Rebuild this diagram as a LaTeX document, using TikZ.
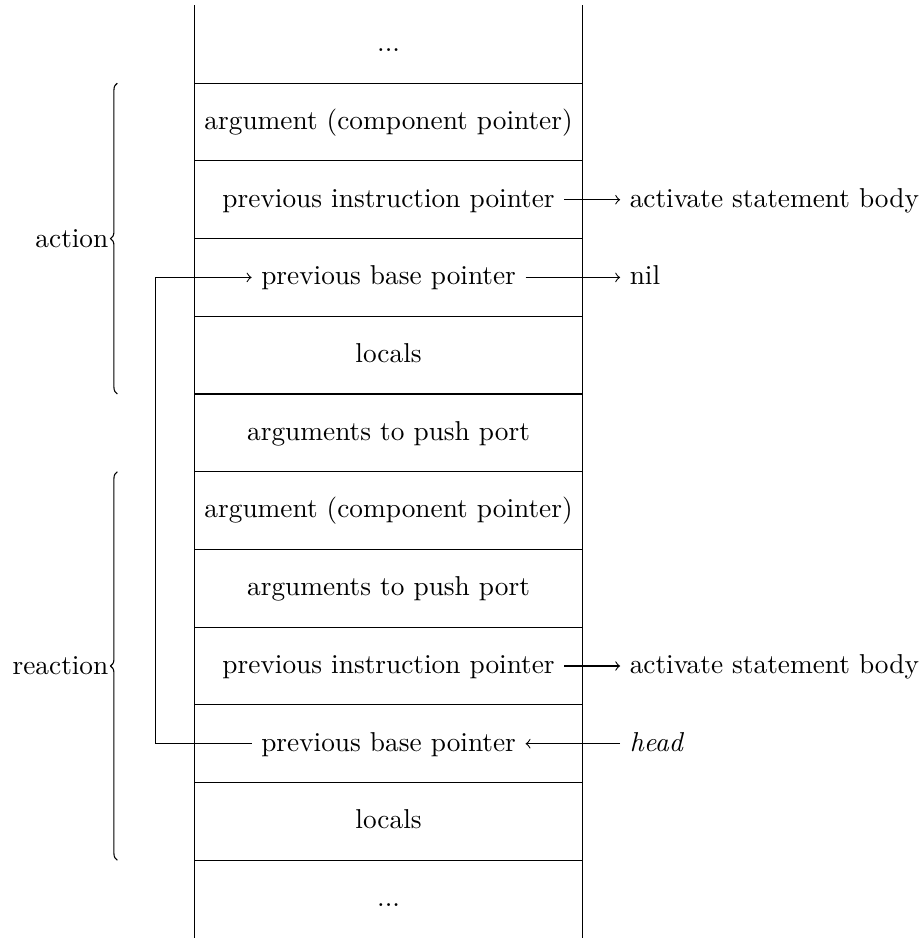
\documentclass[tikz,border=0pt]{standalone}
\usetikzlibrary{decorations.pathreplacing}
\begin{document}
\begin{tikzpicture}[
  cell/.style={text height=1.5ex, text depth=.25ex},
  side/.style={text height=1.5ex, text depth=.25ex, anchor=west},
  stackline/.style={line width=0.4pt},
  bracepath/.style={decorate, decoration={brace, amplitude=2.5pt}},
  bracelabel/.style={anchor=east, inner sep=0.5pt, xshift=-2.6pt}
]
\useasboundingbox (0,0) rectangle (11.88,12.07);
% stack outline
\draw[stackline] (2.5,0) -- (2.5,12);
\draw[stackline] (7.5,0) -- (7.5,12);
\foreach \y in {1,...,11} \draw[stackline] (2.5,\y) -- (7.5,\y);
% rows
\node[cell] (r1)  at (5,11.5) {...};
\node[cell] (r2)  at (5,10.5) {argument (component pointer)};
\node[cell] (r3)  at (5,9.5)  {previous instruction pointer};
\node[cell] (r4)  at (5,8.5)  {previous base pointer};
\node[cell] (r5)  at (5,7.5)  {locals};
\node[cell] (r6)  at (5,6.5)  {arguments to push port};
\node[cell] (r7)  at (5,5.5)  {argument (component pointer)};
\node[cell] (r8)  at (5,4.5)  {arguments to push port};
\node[cell] (r9)  at (5,3.5)  {previous instruction pointer};
\node[cell] (r10) at (5,2.5)  {previous base pointer};
\node[cell] (r11) at (5,1.5)  {locals};
\node[cell] (r12) at (5,0.5)  {...};
% side nodes
\node[side] (t3)  at (7.98,9.5) {activate statement body};
\node[side] (t4)  at (7.98,8.5) {nil};
\node[side] (t9)  at (7.98,3.5) {activate statement body};
\node[side] (h10) at (7.98,2.5) {\textit{head}};
% arrows
\draw[->] (r3.east) -- (t3.west);
\draw[->] (r4.east) -- (t4.west);
\draw[->] (r9.east) -- (t9.west);
\draw[->] (h10.west) -- (r10.east);
\coordinate (loop) at (2,0);
\draw[->] (r10.west) -| (loop |- r4.west) -- (r4.west);
% braces
\draw[bracepath] (1.51,7) -- (1.51,11) node[midway, bracelabel] (actlab) {action};
\draw[bracepath] (1.51,1) -- (1.51,6) node[midway, bracelabel] (reactlab) {reaction};
\end{tikzpicture}
\end{document}
